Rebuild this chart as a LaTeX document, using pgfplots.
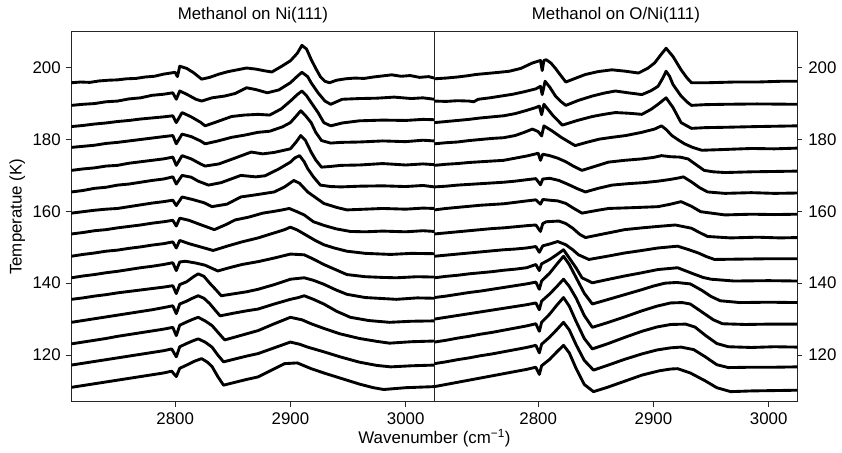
\documentclass[border=0pt]{standalone}
\usepackage{fontspec}
\setmainfont{Liberation Sans}
\usepackage{pgfplots}
\pgfplotsset{compat=1.18}
\begin{document}
\fontsize{17}{20}\selectfont
\begin{tikzpicture}
\pgfplotsset{
  panel/.style={
    width=366pt, height=373pt, scale only axis,
    xmin=2710, xmax=3025, ymin=107, ymax=210,
    xtick={2800,2900,3000}, ytick={120,140,160,180,200},
    tick align=outside, major tick length=5pt,
    xtick pos=bottom,
    axis line style={black!85, line width=0.8pt},
    tick style={black!85, line width=0.8pt},
    /pgf/number format/assume math mode=true,
    /pgf/number format/1000 sep={},
    ticklabel style={font=\fontsize{17}{20}\selectfont},
    title style={font=\fontsize{17}{20}\selectfont, yshift=-3pt},
    label style={font=\fontsize{17}{20}\selectfont},
    cycle list={{black, mark=none}},
    every axis plot post/.append style={black, line width=2.9pt, line join=round, line cap=round, mark=none},
  }
}
\begin{axis}[panel, name=ax1, ytick pos=left, title={Methanol on Ni(111)}, ylabel={Temperatue (K)}, ylabel style={yshift=-4pt}]
% L1
\addplot coordinates {(2710,195.8)(2718,196.0)(2726,195.9)(2734,196.3)(2742,196.5)(2750,196.6)(2758,196.9)(2766,197.0)(2774,197.4)(2782,197.6)(2790,198.2)(2798,198.6)(2800,198.7)(2802,197.5)(2804,200.4)(2810,199.8)(2816,198.6)(2823,196.8)(2830,197.3)(2838,198.2)(2846,198.9)(2854,199.4)(2862,199.9)(2870,199.6)(2878,199.1)(2884,198.8)(2892,200.3)(2900,201.9)(2906,204.0)(2910,206.2)(2914,205.2)(2918,202.3)(2922,199.8)(2926,197.5)(2930,196.2)(2934,195.8)(2940,196.5)(2948,196.9)(2956,197.1)(2964,197.0)(2972,197.4)(2980,197.7)(2988,198.0)(2996,197.6)(3004,197.8)(3012,197.3)(3020,197.5)(3025,197.1)};
% L2
\addplot coordinates {(2710,189.5)(2720,189.8)(2730,190.0)(2740,190.5)(2750,190.7)(2760,191.3)(2770,191.6)(2780,192.3)(2790,192.6)(2798,193.0)(2801,191.2)(2804,193.5)(2810,192.6)(2818,191.2)(2823,190.7)(2832,191.6)(2843,192.1)(2852,192.8)(2862,194.4)(2870,193.9)(2880,193.0)(2890,193.8)(2900,195.8)(2906,197.6)(2910,198.7)(2915,197.5)(2918,195.8)(2924,193.0)(2930,190.7)(2935,189.8)(2945,191.2)(2960,191.4)(2975,191.5)(2990,191.8)(3005,191.4)(3015,191.6)(3025,191.2)};
% L3
\addplot coordinates {(2710,183.6)(2720,183.9)(2730,184.3)(2740,184.6)(2750,185.0)(2760,185.3)(2770,185.7)(2780,186.0)(2790,186.3)(2798,186.6)(2801,184.7)(2806,187.5)(2814,186.3)(2822,184.8)(2826,183.8)(2835,184.8)(2849,186.4)(2860,186.8)(2872,187.0)(2882,186.8)(2892,188.5)(2900,190.7)(2906,192.5)(2910,193.5)(2914,192.2)(2918,190.3)(2924,187.5)(2929,184.7)(2935,183.8)(2945,184.6)(2960,185.2)(2980,185.4)(3000,185.3)(3015,185.6)(3025,185.5)};
% L4
\addplot coordinates {(2710,177.8)(2720,178.1)(2730,178.4)(2740,178.9)(2750,179.2)(2760,179.6)(2770,180.0)(2780,180.4)(2790,180.8)(2798,181.1)(2801,178.8)(2806,181.5)(2814,180.8)(2822,179.6)(2826,178.8)(2836,179.5)(2849,180.6)(2860,181.2)(2872,182.0)(2882,182.3)(2893,183.5)(2900,184.7)(2905,186.5)(2909,188.0)(2913,186.7)(2918,184.7)(2922,182.0)(2927,179.7)(2935,179.0)(2944,179.2)(2960,179.3)(2980,179.6)(3000,179.4)(3015,179.8)(3025,179.6)};
% L5
\addplot coordinates {(2710,171.4)(2720,171.8)(2730,172.1)(2740,172.6)(2750,172.8)(2760,173.4)(2770,173.8)(2780,174.2)(2790,174.6)(2798,175.1)(2801,172.8)(2806,175.5)(2814,174.6)(2822,173.2)(2826,172.6)(2838,173.2)(2850,174.6)(2866,176.5)(2876,176.0)(2886,176.4)(2900,177.4)(2905,179.3)(2909,181.1)(2913,179.8)(2918,176.5)(2922,174.3)(2927,172.3)(2935,172.5)(2944,172.8)(2960,172.9)(2980,173.3)(3000,172.9)(3015,173.2)(3025,173.0)};
% L6
\addplot coordinates {(2710,165.4)(2720,165.8)(2730,166.4)(2740,166.7)(2750,167.3)(2760,167.6)(2770,168.1)(2780,168.6)(2790,169.0)(2798,169.6)(2801,167.6)(2806,170.0)(2814,169.5)(2820,168.4)(2829,167.3)(2840,168.0)(2857,170.0)(2870,169.6)(2878,169.9)(2890,171.8)(2900,173.7)(2904,174.9)(2908,175.5)(2912,173.8)(2915,171.9)(2920,169.6)(2926,167.3)(2935,166.9)(2944,166.8)(2960,167.0)(2980,167.1)(3000,166.9)(3015,167.2)(3025,166.8)};
% L7
\addplot coordinates {(2710,159.5)(2720,159.9)(2730,160.3)(2740,160.6)(2750,160.8)(2760,161.3)(2770,161.8)(2780,162.3)(2790,162.7)(2798,163.1)(2801,161.6)(2806,164.0)(2815,163.3)(2825,162.4)(2832,161.3)(2845,162.0)(2857,164.0)(2870,164.6)(2886,165.4)(2895,166.8)(2903,168.6)(2908,167.8)(2915,165.4)(2922,163.8)(2929,162.2)(2940,161.1)(2949,160.4)(2965,160.6)(2980,160.8)(3000,160.6)(3015,160.9)(3025,160.8)};
% L8
\addplot coordinates {(2710,153.7)(2720,154.1)(2730,154.6)(2740,154.9)(2750,155.4)(2760,155.8)(2770,156.2)(2780,156.7)(2790,157.1)(2798,157.5)(2801,155.9)(2804,158.1)(2812,157.5)(2822,156.3)(2834,154.9)(2844,156.3)(2852,157.6)(2864,158.4)(2876,159.5)(2886,160.0)(2893,160.4)(2899,160.8)(2905,160.0)(2912,159.0)(2920,157.1)(2930,156.0)(2940,155.1)(2952,154.4)(2965,154.3)(2980,154.5)(3000,154.3)(3015,154.6)(3025,154.4)};
% L9
\addplot coordinates {(2710,147.5)(2720,148.0)(2730,148.4)(2740,148.9)(2750,149.2)(2760,149.7)(2770,150.1)(2780,150.6)(2790,151.0)(2798,151.5)(2801,149.8)(2804,151.9)(2812,151.0)(2822,150.1)(2833,149.1)(2845,150.3)(2858,151.5)(2872,152.6)(2884,153.8)(2895,154.9)(2900,155.6)(2906,154.8)(2913,153.5)(2921,152.0)(2929,150.7)(2938,149.8)(2949,148.9)(2965,148.3)(2987,148.0)(3005,148.3)(3025,148.2)};
% L10
\addplot coordinates {(2710,141.5)(2720,142.0)(2730,142.4)(2740,142.9)(2750,143.3)(2760,143.8)(2770,144.3)(2780,144.7)(2790,145.2)(2798,145.7)(2801,143.5)(2804,145.9)(2809,146.1)(2818,145.6)(2826,145.0)(2837,143.4)(2847,144.3)(2858,145.2)(2872,146.0)(2886,147.0)(2900,148.1)(2912,147.9)(2920,146.7)(2929,145.2)(2939,143.8)(2949,142.4)(2965,141.8)(2980,141.6)(2992,141.5)(3010,141.8)(3025,141.7)};
% L11
\addplot coordinates {(2710,135.5)(2720,135.9)(2730,136.4)(2740,136.8)(2750,137.3)(2760,137.7)(2770,138.1)(2780,138.5)(2790,138.9)(2798,139.3)(2801,137.1)(2804,139.6)(2810,140.4)(2816,141.8)(2820,142.6)(2825,141.9)(2830,140.0)(2835,138.3)(2840,136.5)(2850,137.0)(2862,137.6)(2872,138.3)(2886,139.6)(2900,141.1)(2912,141.5)(2920,140.8)(2929,139.7)(2939,138.2)(2949,136.9)(2965,136.0)(2992,135.5)(3010,135.9)(3025,135.8)};
% L12
\addplot coordinates {(2710,129.1)(2720,129.6)(2730,130.1)(2740,130.6)(2750,131.1)(2760,131.6)(2770,132.1)(2780,132.6)(2790,133.2)(2798,133.7)(2801,131.5)(2804,134.2)(2810,135.0)(2815,135.8)(2820,136.5)(2825,135.8)(2830,134.3)(2835,132.4)(2839,130.9)(2850,131.6)(2862,132.3)(2872,132.8)(2886,134.2)(2900,135.5)(2907,136.0)(2912,136.5)(2920,135.5)(2929,134.2)(2940,132.2)(2952,130.5)(2968,129.6)(2986,129.1)(3005,129.4)(3025,129.5)};
% L13
\addplot coordinates {(2710,123.1)(2720,123.6)(2730,124.1)(2740,124.6)(2750,125.2)(2760,125.7)(2770,126.2)(2780,126.7)(2790,127.2)(2798,127.7)(2801,125.4)(2804,128.3)(2810,129.2)(2815,129.9)(2820,130.5)(2826,129.5)(2832,128.2)(2838,126.0)(2843,124.2)(2852,125.0)(2862,125.9)(2872,126.8)(2886,128.7)(2900,130.5)(2910,129.8)(2918,128.7)(2930,127.3)(2943,125.9)(2960,124.6)(2975,123.8)(2986,123.3)(3005,123.7)(3025,123.9)};
% L14
\addplot coordinates {(2710,117.2)(2720,117.7)(2730,118.2)(2740,118.7)(2750,119.2)(2760,119.7)(2770,120.2)(2780,120.7)(2790,121.2)(2797,121.7)(2801,119.5)(2804,122.3)(2810,123.2)(2815,123.9)(2820,124.5)(2826,123.6)(2832,122.2)(2837,120.0)(2842,118.1)(2852,118.9)(2862,119.7)(2872,120.4)(2886,122.0)(2900,123.6)(2908,123.0)(2915,122.2)(2930,120.8)(2943,119.5)(2960,118.0)(2975,117.1)(2987,116.7)(3005,117.0)(3025,117.2)};
% L15
\addplot coordinates {(2710,111.0)(2720,111.5)(2730,112.0)(2740,112.5)(2750,113.0)(2760,113.5)(2770,114.0)(2780,114.5)(2790,115.0)(2797,115.5)(2801,114.0)(2804,116.3)(2810,117.2)(2817,118.3)(2823,119.0)(2828,118.0)(2832,116.8)(2837,114.0)(2842,111.6)(2852,112.4)(2862,113.2)(2872,113.9)(2885,116.0)(2895,117.6)(2906,117.8)(2918,116.2)(2930,114.9)(2944,113.5)(2960,111.9)(2972,110.9)(2981,110.4)(3000,110.9)(3025,111.2)};
\end{axis}
\begin{axis}[panel, name=ax2, at={(ax1.south east)}, anchor=south west, ytick pos=right, yticklabel pos=right, title={Methanol on O/Ni(111)}]
% R1
\addplot coordinates {(2710,196.9)(2720,197.1)(2730,197.4)(2740,197.8)(2746,198.1)(2756,198.4)(2766,198.7)(2775,199.0)(2785,199.8)(2795,201.3)(2800,201.8)(2802,202.0)(2803.5,199.2)(2805,202.0)(2807,202.2)(2811,201.3)(2815,199.8)(2818,198.5)(2824,196.0)(2832,197.0)(2841,198.1)(2852,198.9)(2864,199.4)(2876,199.0)(2887,198.5)(2895,199.8)(2901,201.3)(2906,203.4)(2911,205.4)(2917,203.1)(2924,199.4)(2929,197.2)(2933,195.8)(2947,195.8)(2970,196.0)(2990,196.0)(3010,196.2)(3025,196.2)};
% R2
\addplot coordinates {(2710,190.7)(2720,190.6)(2730,190.8)(2740,190.7)(2744,190.5)(2748,191.2)(2758,191.6)(2768,192.1)(2778,192.6)(2788,193.3)(2798,194.1)(2802,194.8)(2803.5,192.5)(2806,196.2)(2810,194.6)(2815,192.1)(2820,190.5)(2824,189.5)(2835,190.9)(2847,192.1)(2857,192.9)(2867,193.5)(2878,193.0)(2890,192.5)(2898,193.6)(2904,194.8)(2908,197.0)(2911,199.0)(2914,197.6)(2917,195.3)(2924,192.1)(2929,190.5)(2933,189.5)(2945,189.7)(2962,189.8)(2990,189.9)(3025,189.8)};
% R3
\addplot coordinates {(2710,184.7)(2720,185.0)(2730,185.3)(2740,185.6)(2750,186.0)(2760,186.3)(2770,186.6)(2780,187.2)(2790,188.1)(2798,188.9)(2801,189.3)(2803,186.9)(2805,189.8)(2809,188.2)(2813,186.6)(2821,184.0)(2834,185.3)(2847,186.4)(2857,187.0)(2867,187.5)(2879,187.3)(2890,187.0)(2898,188.4)(2904,189.8)(2911,191.6)(2917,188.9)(2924,184.7)(2933,183.1)(2945,183.3)(2962,183.4)(2990,183.6)(3025,183.8)};
% R4
\addplot coordinates {(2710,178.8)(2720,179.1)(2730,179.3)(2740,179.7)(2750,180.0)(2760,180.3)(2770,180.5)(2780,181.1)(2788,182.0)(2795,182.9)(2800,182.2)(2803,181.0)(2805,183.8)(2812,182.4)(2820,180.6)(2832,178.3)(2842,179.2)(2853,180.1)(2864,180.6)(2876,181.1)(2890,182.0)(2901,182.9)(2907,183.8)(2911,182.8)(2916,181.1)(2922,179.8)(2927,178.8)(2934,177.8)(2942,177.0)(2960,177.2)(2985,177.5)(3005,177.4)(3025,177.6)};
% R5
\addplot coordinates {(2710,172.8)(2720,173.1)(2730,173.3)(2740,173.6)(2750,173.8)(2760,174.0)(2770,174.2)(2780,174.8)(2790,175.4)(2798,176.0)(2800,176.2)(2802,174.2)(2804,175.9)(2810,175.5)(2817,174.8)(2824,173.8)(2831,172.5)(2838,171.4)(2850,172.6)(2861,173.7)(2875,174.2)(2890,174.6)(2900,175.0)(2907,175.5)(2915,175.2)(2923,175.1)(2930,174.6)(2937,173.0)(2944,171.4)(2952,171.0)(2962,170.8)(2985,171.0)(3005,171.1)(3025,171.2)};
% R6
\addplot coordinates {(2710,166.8)(2720,167.0)(2730,167.3)(2740,167.5)(2750,167.7)(2760,167.9)(2770,168.1)(2780,168.4)(2790,168.8)(2798,169.1)(2802,167.4)(2804,169.0)(2810,169.2)(2818,168.6)(2826,167.5)(2834,166.3)(2841,165.4)(2852,166.4)(2864,167.3)(2878,167.7)(2892,168.0)(2904,168.4)(2915,168.9)(2922,169.3)(2926,169.6)(2933,168.2)(2940,166.6)(2947,165.4)(2962,165.0)(2985,165.2)(3005,165.0)(3025,165.1)};
% R7
\addplot coordinates {(2710,160.4)(2720,160.8)(2730,161.1)(2740,161.4)(2750,161.7)(2760,161.9)(2770,162.1)(2780,162.5)(2790,162.9)(2798,163.2)(2802,162.0)(2804,163.3)(2810,163.1)(2817,162.9)(2824,162.2)(2831,160.8)(2838,159.5)(2850,160.2)(2861,160.8)(2880,161.0)(2904,161.3)(2915,162.0)(2924,162.7)(2933,161.4)(2941,159.9)(2962,159.0)(2985,159.2)(3005,159.1)(3025,159.2)};
% R8
\addplot coordinates {(2710,153.7)(2720,154.0)(2730,154.3)(2740,154.6)(2750,154.9)(2760,155.2)(2770,155.4)(2780,155.7)(2790,156.0)(2798,156.2)(2802,154.4)(2804,156.6)(2807,157.1)(2818,157.3)(2824,156.6)(2830,155.3)(2836,153.6)(2841,152.7)(2858,153.8)(2875,154.9)(2890,155.4)(2904,155.8)(2919,156.2)(2933,155.3)(2940,154.1)(2947,153.0)(2967,152.6)(2990,152.8)(3010,152.6)(3025,152.7)};
% R9
\addplot coordinates {(2710,147.5)(2720,147.8)(2730,148.1)(2740,148.4)(2750,148.7)(2760,149.0)(2770,149.3)(2780,149.5)(2790,149.8)(2798,150.2)(2801,148.6)(2804,150.4)(2810,150.9)(2817,151.6)(2824,150.7)(2830,149.3)(2835,147.9)(2844,146.6)(2860,147.5)(2875,148.4)(2890,149.1)(2904,149.8)(2921,150.3)(2930,149.4)(2939,148.4)(2946,147.4)(2953,146.6)(2975,146.7)(3000,146.8)(3025,146.8)};
% R10
\addplot coordinates {(2710,141.5)(2720,141.9)(2730,142.2)(2740,142.6)(2750,142.9)(2760,143.2)(2770,143.6)(2780,143.9)(2790,144.3)(2798,145.2)(2801,143.5)(2803,145.4)(2810,146.6)(2816,147.9)(2822,149.3)(2827,147.0)(2833,144.2)(2838,141.5)(2847,140.1)(2860,141.0)(2875,142.0)(2890,142.9)(2904,143.8)(2921,144.3)(2933,142.8)(2943,141.6)(2950,141.1)(2970,140.6)(3000,140.7)(3025,140.6)};
% R11
\addplot coordinates {(2710,136.0)(2720,136.4)(2730,136.9)(2740,137.4)(2750,137.8)(2760,138.3)(2770,138.8)(2780,139.3)(2790,139.8)(2798,140.3)(2801,138.3)(2803,140.6)(2810,142.8)(2816,145.2)(2822,147.5)(2827,145.2)(2833,141.5)(2840,137.2)(2847,134.2)(2860,135.4)(2875,136.8)(2890,138.2)(2900,139.2)(2910,140.0)(2920,140.2)(2932,139.8)(2942,138.0)(2950,136.3)(2958,135.1)(2975,134.6)(3000,134.7)(3025,134.6)};
% R12
\addplot coordinates {(2710,130.0)(2720,130.5)(2730,131.0)(2740,131.5)(2750,132.0)(2760,132.5)(2770,133.0)(2780,133.5)(2790,134.0)(2798,134.5)(2801,132.6)(2803,135.0)(2810,137.0)(2816,139.0)(2822,141.1)(2827,139.1)(2833,135.8)(2840,131.0)(2847,127.7)(2860,129.0)(2875,130.6)(2890,132.3)(2903,133.6)(2915,134.5)(2925,134.6)(2932,134.2)(2942,132.0)(2952,129.8)(2960,128.7)(2980,128.5)(3000,128.6)(3025,128.6)};
% R13
\addplot coordinates {(2710,123.6)(2720,124.1)(2730,124.7)(2740,125.2)(2750,125.8)(2760,126.3)(2770,126.9)(2780,127.5)(2790,128.1)(2798,128.7)(2801,126.6)(2803,129.1)(2810,131.4)(2816,133.8)(2822,136.0)(2827,133.6)(2833,129.3)(2840,124.6)(2847,121.7)(2860,123.1)(2875,124.9)(2890,126.6)(2903,127.8)(2915,128.5)(2928,128.6)(2936,127.8)(2945,125.5)(2955,123.2)(2965,122.3)(2985,122.1)(3005,122.3)(3025,122.2)};
% R14
\addplot coordinates {(2710,117.6)(2720,118.1)(2730,118.7)(2740,119.2)(2750,119.8)(2760,120.3)(2770,120.9)(2780,121.5)(2790,122.1)(2798,122.7)(2801,120.6)(2803,123.0)(2810,125.0)(2816,127.0)(2822,129.1)(2827,127.0)(2833,122.8)(2840,118.5)(2848,115.8)(2860,117.1)(2875,118.8)(2890,120.3)(2903,121.4)(2915,122.0)(2924,122.2)(2935,121.5)(2945,119.5)(2955,117.3)(2965,116.5)(2985,116.6)(3005,116.6)(3025,116.7)};
% R15
\addplot coordinates {(2710,111.2)(2720,111.8)(2730,112.4)(2740,113.0)(2750,113.6)(2760,114.2)(2770,114.8)(2780,115.4)(2790,116.0)(2798,116.6)(2801,114.6)(2803,117.0)(2810,118.8)(2816,120.8)(2822,122.7)(2827,120.6)(2833,116.2)(2840,111.8)(2848,109.8)(2860,111.0)(2875,112.7)(2890,114.4)(2905,115.6)(2915,116.1)(2921,116.2)(2932,115.0)(2945,112.8)(2955,110.9)(2967,109.8)(2985,110.0)(3005,110.1)(3025,110.2)};
\end{axis}
\node[anchor=base] at ([yshift=-42pt]ax1.south east) {Wavenumber (cm\textsuperscript{−1})};
\path ([shift={(-72pt,-50pt)}]ax1.south west) rectangle ([shift={(38pt,32pt)}]ax2.north east);
\end{tikzpicture}
\end{document}
